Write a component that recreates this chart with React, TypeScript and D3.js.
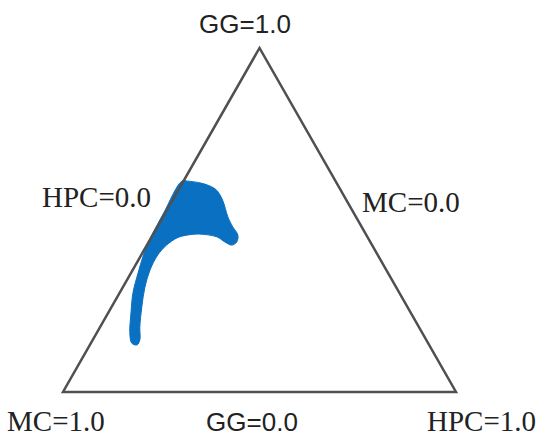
import { useEffect, useRef } from "react";
import * as d3 from "d3";

// Ternary axes: GG (top), MC (bottom-left), HPC (bottom-right)
const vertices = [
  { GG: 1, MC: 0, HPC: 0 },
  { GG: 0, MC: 1, HPC: 0 },
  { GG: 0, MC: 0, HPC: 1 },
];

const cornerLabels = ["GG=1.0", "MC=1.0", "HPC=1.0"];
const edgeLabels = ["HPC=0.0", "MC=0.0", "GG=0.0"];

// outline of the blue region as [GG, HPC] (MC = 1 - GG - HPC)
const regionGG = [
  0.613, 0.613, 0.608, 0.599, 0.587, 0.558, 0.509, 0.48, 0.456, 0.436, 0.427,
  0.436, 0.451, 0.459, 0.456, 0.448, 0.427, 0.398, 0.355, 0.305, 0.247, 0.189,
  0.151, 0.137, 0.142, 0.172, 0.23, 0.288, 0.346, 0.392, 0.433, 0.52,
];
const regionHPC = [
  -0.004, 0.011, 0.044, 0.074, 0.097, 0.127, 0.165, 0.192, 0.217, 0.224,
  0.216, 0.194, 0.166, 0.118, 0.087, 0.066, 0.05, 0.042, 0.044, 0.056, 0.077,
  0.101, 0.12, 0.12, 0.104, 0.084, 0.058, 0.034, 0.018, 0.007, 0.0, -0.004,
];

function App() {
  const ref = useRef<SVGSVGElement | null>(null);
  const width = 550;
  const height = 446;

  useEffect(() => {
    const svg = d3.select(ref.current);
    svg.selectAll("*").remove();

    // scales: GG drives height, HPC drives position along the base
    const yScale = d3.scaleLinear().domain([0, 1]).range([392, 48]);
    const xScale = d3.scaleLinear().domain([0, 1]).range([63, 456]);
    const half = (xScale(1) - xScale(0)) / 2;
    const px = (gg: number, hpc: number) => xScale(hpc) + gg * half;
    const py = (gg: number) => yScale(gg);

    // blue region
    const pts: [number, number][] = regionGG.map((g, i) => [
      px(g, regionHPC[i]),
      py(g),
    ]);
    svg
      .append("path")
      .attr("d", d3.line().curve(d3.curveCatmullRomClosed.alpha(0.5))(pts))
      .attr("fill", "#0a70c2")
      .attr("stroke", "#0a70c2")
      .attr("stroke-width", 1);

    // triangle
    const tri: [number, number][] = vertices.map((v) => [px(v.GG, v.HPC), py(v.GG)]);
    svg
      .append("path")
      .attr("d", d3.line()(tri) + "Z")
      .attr("fill", "none")
      .attr("stroke", "#505050")
      .attr("stroke-width", 2.5)
      .attr("stroke-linejoin", "miter");

    // labels
    const serif = "'Liberation Serif', 'Times New Roman', serif";
    const sans = "'Liberation Sans', Arial, sans-serif";
    const labels = [
      { t: cornerLabels[0], x: 245, y: 33, a: "middle", f: sans, s: 26 },
      { t: cornerLabels[1], x: 7, y: 431, a: "start", f: serif, s: 29 },
      { t: cornerLabels[2], x: 427, y: 431, a: "start", f: serif, s: 29 },
      { t: edgeLabels[0], x: 42, y: 207, a: "start", f: serif, s: 29 },
      { t: edgeLabels[1], x: 362, y: 212, a: "start", f: serif, s: 29 },
      { t: edgeLabels[2], x: 252, y: 431, a: "middle", f: sans, s: 26 },
    ];
    svg
      .selectAll("text.lbl")
      .data(labels)
      .enter()
      .append("text")
      .attr("class", "lbl")
      .attr("x", (d) => d.x)
      .attr("y", (d) => d.y)
      .attr("text-anchor", (d) => d.a)
      .attr("font-family", (d) => d.f)
      .attr("font-size", (d) => d.s)
      .attr("fill", "#222")
      .text((d) => d.t);
  }, []);

  return (
    <div style={{ position: "absolute", left: 0, top: 0, background: "#fff" }}>
      <svg ref={ref} width={width} height={height} style={{ display: "block" }} />
    </div>
  );
}

export default App;
